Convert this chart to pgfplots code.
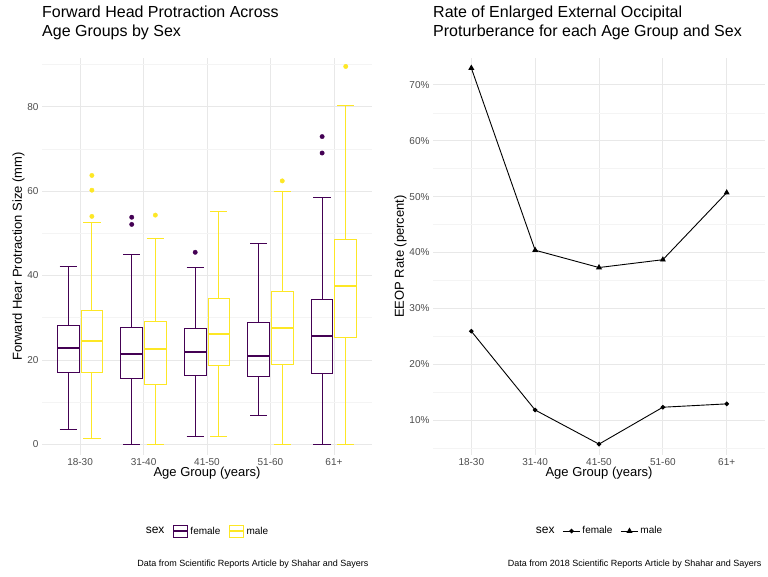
\documentclass[border=0pt]{standalone}
\usepackage{pgfplots}
\pgfplotsset{compat=1.18}
\usepgfplotslibrary{statistics}
\usepackage{fontspec}
\setmainfont{Liberation Sans}
\definecolor{fem}{HTML}{440154}
\definecolor{mal}{HTML}{FDE725}
\newcommand\bx[7]{\addplot[#1, forget plot, line width=0.9pt, boxplot/draw direction=y, boxplot prepared={draw position=#2, lower whisker=#3, lower quartile=#4, median=#5, upper quartile=#6, upper whisker=#7, box extend=0.34, every median/.style={line width=2pt}}] coordinates {};}
\pgfplotsset{gg/.style={scale only axis, axis line style={draw=none}, tick style={draw=none},
  xmin=-0.6, xmax=4.6, xtick={0,1,2,3,4}, xticklabels={18-30,31-40,41-50,51-60,61+},
  grid=both, major grid style={gray!18, line width=0.8pt}, minor grid style={gray!9, line width=0.5pt},
  xminorgrids=false,
  ticklabel style={font=\fontsize{10}{12}\selectfont, text=black!70},
  /pgf/number format/assume math mode=true,
  label style={font=\fontsize{13}{15}\selectfont},
  xlabel={Age Group (years)}, xlabel style={yshift=5pt},
  legend style={draw=none, fill=none, font=\fontsize{10}{12}\selectfont, legend columns=3, at={(0.5,-0.17)}, anchor=north, /tikz/every even column/.append style={column sep=6pt}},
  legend cell align=left}}
\begin{document}
\begin{tikzpicture}
\useasboundingbox (0,0) rectangle (768pt,576pt);
\node[anchor=north west, align=left, font=\fontsize{16}{18.5}\selectfont, inner sep=0] at (42pt,570pt) {Forward Head Protraction Across\\Age Groups by Sex};
\node[anchor=north west, align=left, font=\fontsize{16}{18.5}\selectfont, inner sep=0] at (433pt,570pt) {Rate of Enlarged External Occipital\\Proturberance for each Age Group and Sex};
\node[anchor=base east, font=\fontsize{9}{11}\selectfont] at (372pt,10pt) {Data from Scientific Reports Article by Shahar and Sayers};
\node[anchor=base east, font=\fontsize{9}{11}\selectfont] at (765pt,10pt) {Data from 2018 Scientific Reports Article by Shahar and Sayers};
\begin{axis}[gg, at={(42pt,121pt)}, anchor=south west, width=330pt, height=397pt,
  ymin=-2.5, ymax=91.5, ytick={0,20,40,60,80}, minor ytick={10,30,50,70,90},
  ylabel={Forward Hear Protraction Size (mm)}, ylabel style={yshift=-4pt}]
\bx{fem}{-0.186}{3.65}{17.1}{22.9}{28.1}{42.1}
\bx{mal}{0.186}{1.35}{17.1}{24.4}{31.8}{52.6}
\bx{fem}{0.814}{0}{15.6}{21.3}{27.6}{45.1}
\bx{mal}{1.186}{0}{14.3}{22.7}{29.1}{48.8}
\bx{fem}{1.814}{2.0}{16.3}{21.9}{27.5}{41.9}
\bx{mal}{2.186}{2.0}{18.6}{26.2}{34.6}{55.2}
\bx{fem}{2.814}{6.9}{16.2}{21.0}{29.0}{47.6}
\bx{mal}{3.186}{0}{19.0}{27.6}{36.3}{59.8}
\bx{fem}{3.814}{0}{16.8}{25.6}{34.4}{58.4}
\bx{mal}{4.186}{0}{25.4}{37.6}{48.5}{80.2}
\addplot[only marks, mark=*, mark size=2.2pt, fem, forget plot] coordinates {(0.814,52.1)(0.814,53.8)(1.814,45.5)(3.814,69.0)(3.814,72.9)};
\addplot[only marks, mark=*, mark size=2.2pt, mal, forget plot] coordinates {(0.186,54.0)(0.186,60.2)(0.186,63.7)(1.186,54.3)(3.186,62.4)(4.186,89.5)};
\addlegendimage{empty legend}\addlegendentry{\fontsize{12}{14}\selectfont sex}
\addlegendimage{legend image code/.code={\draw[fem,line width=0.9pt,fill=white] (0,-6pt) rectangle (14pt,6pt); \draw[fem,line width=2pt] (0,0)--(14pt,0);}}\addlegendentry{female}
\addlegendimage{legend image code/.code={\draw[mal,line width=0.9pt,fill=white] (0,-6pt) rectangle (14pt,6pt); \draw[mal,line width=2pt] (0,0)--(14pt,0);}}\addlegendentry{male}
\end{axis}
\begin{axis}[gg, at={(433pt,121pt)}, anchor=south west, width=332pt, height=397pt,
  ymin=3.75, ymax=74.8, ytick={10,20,...,70}, minor ytick={5,15,...,75},
  yticklabel={\pgfmathprintnumber{\tick}\%},
  ylabel={EEOP Rate (percent)}, ylabel style={yshift=-4pt}]
\addlegendimage{empty legend}\addlegendentry{\fontsize{12}{14}\selectfont sex}
\addplot[black, line width=0.9pt, mark=*, mark size=1.8pt] coordinates {(0,25.9)(1,11.8)(2,5.7)(3,12.3)(4,12.9)};
\addlegendentry{female}
\addplot[black, line width=0.9pt, mark=triangle*, mark size=2.6pt] coordinates {(0,73.0)(1,40.4)(2,37.3)(3,38.7)(4,50.7)};
\addlegendentry{male}
\end{axis}
\end{tikzpicture}
\end{document}
